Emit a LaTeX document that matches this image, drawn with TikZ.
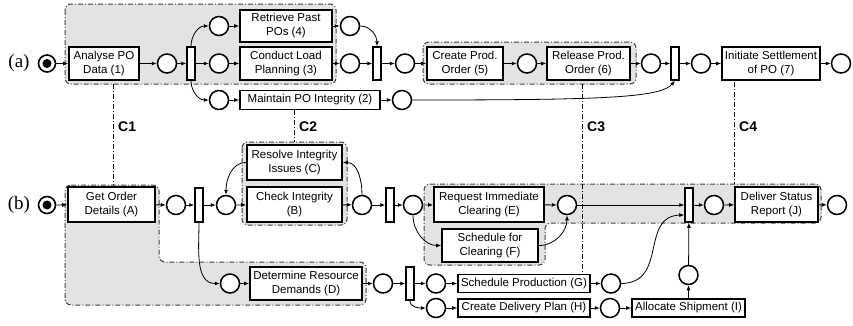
\documentclass[tikz,border=0pt]{standalone}
\usepackage{fontspec}
\setmainfont{Liberation Sans}
\newfontfamily\serifa{Liberation Serif}
\usetikzlibrary{arrows.meta,calc}
\begin{document}
\begin{tikzpicture}[x=1pt,y=-1pt,
 box/.style={draw, line width=1.7pt, fill=white, inner sep=0pt, align=center, font=\fontsize{11.5}{14}\selectfont},
 place/.style={circle, draw, line width=1.5pt, fill=white, minimum size=19pt, inner sep=0pt},
 startp/.style={circle, draw, line width=1.6pt, fill=white, minimum size=17pt, inner sep=0pt,
   path picture={\fill[black] (path picture bounding box.center) circle (4.5pt);}},
 bar/.style={draw, line width=1.5pt, fill=white, minimum width=8pt, minimum height=33pt, inner sep=0pt},
 arr/.style={line width=0.8pt, -{Latex[length=5pt,width=4pt]}},
 grp/.style={fill=black!11, draw=black!75, line width=1pt, dash pattern=on 5pt off 2pt on 1pt off 2pt, rounded corners=6pt},
 cline/.style={draw=black, line width=0.8pt, dash pattern=on 5pt off 2pt on 1pt off 2pt},
 clab/.style={font=\bfseries\fontsize{14}{14}\selectfont, anchor=west, inner sep=0pt},
 lab/.style={font=\serifa\fontsize{19}{19}\selectfont, inner sep=0pt}
]
\useasboundingbox (0,0) rectangle (853,325);

% ---------- groups ----------
\path[grp] (65,4) rectangle (336,84);
\path[grp] (423,42) rectangle (636,84);
\path[grp] (65,185) -- (159,185) -- (159,262) -- (366,262) -- (366,305) -- (65,305) -- cycle;
\path[grp] (242,142) rectangle (347,225);
\path[grp] (424,184) -- (821,184) -- (821,223) -- (545,223) -- (545,265) -- (424,265) -- cycle;

% ---------- correspondence lines ----------
\coordinate (c1a) at (113,84);  \coordinate (c1b) at (113,185);
\coordinate (c2a) at (294,110); \coordinate (c2b) at (294,142);
\coordinate (c3a) at (582,84);  \coordinate (c3b) at (582,274);
\coordinate (c4a) at (734,82);  \coordinate (c4b) at (734,184);
\draw[cline] (c1a) -- (c1b);
\draw[cline] (c2a) -- (c2b);
\draw[cline] (c3a) -- (c3b);
\draw[cline] (c4a) -- (c4b);
\node[clab] (l1) at (118,127) {C1};
\node[clab] (l2) at (299,127) {C2};
\node[clab] (l3) at (587,127) {C3};
\node[clab] (l4) at (739,127) {C4};

% ---------- row labels ----------
\node[lab] (la) at (19,63) {(a)};
\node[lab] (lb) at (19,205) {(b)};

% ---------- row (a) ----------
\node[startp] (sa) at (47,63.5) {};
\node[box, minimum width=70pt, minimum height=33pt] (A1) at (104,63.5) {Analyse PO\\Data (1)};
\node[place] (pa1) at (167,63.5) {};
\node[bar] (ba1) at (191,63.5) {};
\node[place] (pa2) at (219,26) {};
\node[place] (pa3) at (219,63.5) {};
\node[place] (pa4) at (219,100) {};
\node[box, minimum width=92pt, minimum height=32pt] (A4) at (286,26) {Retrieve Past\\POs (4)};
\node[box, minimum width=92pt, minimum height=33pt] (A3) at (286,63.5) {Conduct Load\\Planning (3)};
\node[box, minimum width=140pt, minimum height=19pt] (A2) at (310,100) {Maintain PO Integrity (2)};
\node[place] (pa5) at (350,26) {};
\node[place] (pa6) at (350,63.5) {};
\node[bar] (ba2) at (377,63.5) {};
\node[place] (pa7) at (405,63.5) {};
\node[place] (pa8) at (402,100) {};
\node[box, minimum width=76pt, minimum height=33pt] (A5) at (465,63.5) {Create Prod.\\Order (5)};
\node[place] (pa9) at (527,63.5) {};
\node[box, minimum width=83pt, minimum height=33pt] (A6) at (588.5,63.5) {Release Prod.\\Order (6)};
\node[place] (pa10) at (651,63.5) {};
\node[bar] (ba3) at (675,63.5) {};
\node[place] (pa11) at (701,63.5) {};
\node[box, minimum width=98pt, minimum height=33pt] (A7) at (771,63.5) {Initiate Settlement\\of PO (7)};
\node[place] (pa12) at (841,63.5) {};

\draw[arr] (sa) -- (A1);
\draw[arr] (A1) -- (pa1);
\draw[arr] (pa1) -- (ba1);
\draw[arr] (ba1) -- (pa3);
\draw[arr] (ba1.north) to[out=90,in=180] (pa2.west);
\draw[arr] (ba1.south) to[out=-90,in=180] (pa4.west);
\draw[arr] (pa2) -- (A4);
\draw[arr] (pa3) -- (A3);
\draw[arr] (pa4) -- (A2);
\draw[arr] (A4) -- (pa5);
\draw[arr] (A3) -- (pa6);
\draw[arr] (pa5.east) to[out=0,in=90] (ba2.north);
\draw[arr] (pa6) -- (ba2);
\draw[arr] (ba2) -- (pa7);
\draw[arr] (A2) -- (pa8);
\draw[arr] (pa7) -- (A5);
\draw[arr] (A5) -- (pa9);
\draw[arr] (pa9) -- (A6);
\draw[arr] (A6) -- (pa10);
\draw[arr] (pa10) -- (ba3);
\draw[arr] (pa8.east) .. controls (600,100) and (660,98) .. (ba3.south);
\draw[arr] (ba3) -- (pa11);
\draw[arr] (pa11) -- (A7);
\draw[arr] (A7) -- (pa12);

% ---------- row (b) ----------
\node[startp] (sb) at (47,205) {};
\node[box, minimum width=87pt, minimum height=35pt] (BA) at (111.5,204.5) {Get Order\\Details (A)};
\node[place] (pb1) at (176,205) {};
\node[bar, minimum height=34pt] (bb1) at (199,205) {};
\node[place] (pb2) at (226,205) {};
\node[box, minimum width=95pt, minimum height=35pt] (BC) at (294.5,162.5) {Resolve Integrity\\Issues (C)};
\node[box, minimum width=95pt, minimum height=35pt] (BB) at (294.5,204.5) {Check Integrity\\(B)};
\node[place] (pb3) at (362,205) {};
\node[bar, minimum height=34pt] (bb2) at (390,205) {};
\node[place] (pb4) at (413,205) {};
\node[box, minimum width=110pt, minimum height=35pt] (BE) at (489,204.5) {Request Immediate\\Clearing (E)};
\node[box, minimum width=96pt, minimum height=33pt] (BF) at (490,245.5) {Schedule for\\Clearing (F)};
\node[place] (pb5) at (567,205) {};
\node[bar, minimum height=34pt] (bb3) at (689,205) {};
\node[place] (pb6) at (714,205) {};
\node[box, minimum width=83pt, minimum height=35pt] (BJ) at (776.5,204.5) {Deliver Status\\Report (J)};
\node[place] (pb7) at (837,205) {};
\node[place] (pb8) at (230,283.5) {};
\node[box, minimum width=112pt, minimum height=33pt] (BD) at (306,283.5) {Determine Resource\\Demands (D)};
\node[place] (pb9) at (383,283.5) {};
\node[bar] (bb4) at (410,283.5) {};
\node[place] (pb10) at (436,283.5) {};
\node[box, minimum width=132pt, minimum height=18pt] (BG) at (524,283.5) {Schedule Production (G)};
\node[place] (pb11) at (611,283.5) {};
\node[place] (pb12) at (436,308) {};
\node[box, minimum width=132pt, minimum height=18pt] (BH) at (524,308) {Create Delivery Plan (H)};
\node[place] (pb13) at (610,308) {};
\node[box, minimum width=113pt, minimum height=18pt] (BI) at (688.5,308) {Allocate Shipment (I)};
\node[place] (pb14) at (688.5,275) {};

\draw[arr] (sb) -- (BA);
\draw[arr] (BA) -- (pb1);
\draw[arr] (pb1) -- (bb1);
\draw[arr] (bb1) -- (pb2);
\draw[arr] (pb2) -- (BB);
\draw[arr] (BC.west) to[out=180,in=90] (pb2.north);
\draw[arr] (BB) -- (pb3);
\draw[arr] (pb3.north) to[out=90,in=0] (BC.east);
\draw[arr] (pb3) -- (bb2);
\draw[arr] (bb2) -- (pb4);
\draw[arr] (pb4) -- (BE);
\draw[arr] (pb4.south) to[out=-90,in=180] (BF.west);
\draw[arr] (BE) -- (pb5);
\draw[arr] (BF.east) to[out=0,in=-90] (pb5.south);
\draw[arr] (pb5) -- (bb3);
\draw[arr] (pb11.east) .. controls (668,283) and (640,216) .. ($(bb3.west)+(0,10)$);
\draw[arr] (bb3) -- (pb6);
\draw[arr] (pb6) -- (BJ);
\draw[arr] (BJ) -- (pb7);
\draw[arr] (bb1.south) to[out=-90,in=180] (pb8.west);
\draw[arr] (pb8) -- (BD);
\draw[arr] (BD) -- (pb9);
\draw[arr] (pb9) -- (bb4);
\draw[arr] (bb4) -- (pb10);
\draw[arr] (bb4.south) to[out=-90,in=180] (pb12.west);
\draw[arr] (pb10) -- (BG);
\draw[arr] (pb12) -- (BH);
\draw[arr] (BG) -- (pb11);
\draw[arr] (BH) -- (pb13);
\draw[arr] (pb13) -- (BI);
\draw[arr] (BI) -- (pb14);
\draw[arr] (pb14) -- (bb3);
\end{tikzpicture}
\end{document}
